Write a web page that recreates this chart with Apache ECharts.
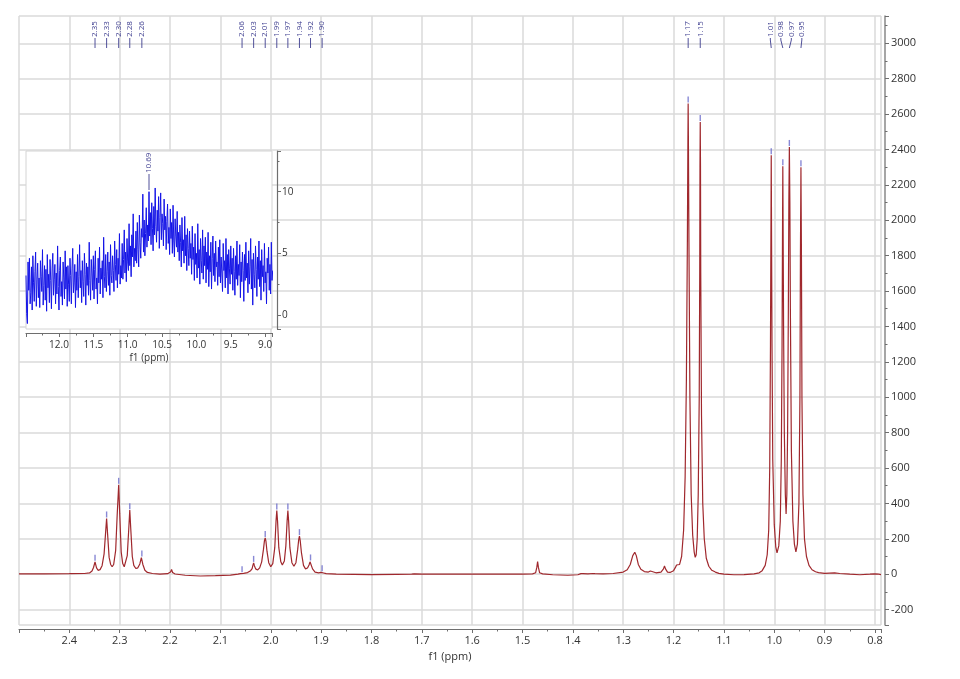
<!DOCTYPE html>
<html><head><meta charset="utf-8">
<script src="https://cdn.jsdelivr.net/npm/echarts@6/dist/echarts.min.js"></script>
<style>html,body{margin:0;padding:0;background:#fff}#c{width:960px;height:679px}</style>
</head><body><div id="c"></div>
<script>
// ---------- main 1H spectrum (ppm, intensity) ----------
const spectrumPpm = [2.500,2.450,2.400,2.370,2.360,2.355,2.352,2.349,2.346,2.343,2.339,2.335,2.331,2.328,2.326,2.324,2.321,2.318,2.315,2.312,2.308,2.305,2.302,2.300,2.297,2.294,2.291,2.288,2.285,2.282,2.280,2.278,2.275,2.272,2.268,2.264,2.260,2.257,2.254,2.250,2.245,2.235,2.220,2.205,2.199,2.197,2.195,2.190,2.170,2.140,2.110,2.080,2.065,2.060,2.057,2.054,2.046,2.040,2.037,2.0355,2.034,2.0325,2.030,2.026,2.022,2.018,2.0145,2.0125,2.011,2.0095,2.0075,2.004,2.000,1.996,1.992,1.9895,1.988,1.9865,1.984,1.980,1.977,1.973,1.970,1.9675,1.966,1.9645,1.962,1.958,1.954,1.950,1.9465,1.9445,1.943,1.9415,1.939,1.935,1.931,1.927,1.924,1.922,1.921,1.9195,1.917,1.912,1.905,1.900,1.898,1.895,1.890,1.870,1.800,1.750,1.720,1.715,1.700,1.600,1.500,1.480,1.474,1.4715,1.470,1.4685,1.466,1.460,1.440,1.410,1.390,1.384,1.382,1.380,1.370,1.360,1.358,1.356,1.340,1.320,1.300,1.292,1.286,1.281,1.277,1.274,1.270,1.265,1.258,1.250,1.246,1.243,1.235,1.225,1.220,1.218,1.216,1.212,1.207,1.200,1.196,1.194,1.192,1.188,1.184,1.180,1.177,1.1745,1.1725,1.1715,1.171,1.1705,1.1695,1.1675,1.165,1.162,1.159,1.157,1.155,1.153,1.151,1.149,1.148,1.1475,1.147,1.1465,1.146,1.1445,1.142,1.139,1.135,1.130,1.124,1.117,1.110,1.100,1.080,1.060,1.040,1.030,1.024,1.018,1.014,1.011,1.009,1.0075,1.0065,1.006,1.0055,1.0045,1.003,1.000,0.997,0.9945,0.991,0.988,0.986,0.9845,0.9835,0.983,0.9825,0.9815,0.980,0.978,0.9765,0.975,0.9735,0.972,0.971,0.970,0.969,0.968,0.966,0.963,0.960,0.957,0.954,0.951,0.949,0.948,0.947,0.946,0.945,0.943,0.940,0.936,0.931,0.925,0.918,0.915,0.912,0.900,0.880,0.870,0.850,0.830,0.810,0.800,0.797,0.794,0.788];
const spectrumInt = [2,2,3,4,7,18,38,70,36,22,26,48,115,235,315,225,95,55,42,55,135,335,505,345,125,60,42,52,105,255,362,255,100,50,32,36,58,94,55,22,10,4,1,3,12,27,10,1,-6,-10,-8,-5,0,3,6,5,9,20,32,50,64,48,30,24,36,70,140,190,205,185,130,65,42,60,150,300,360,300,150,70,52,75,160,300,360,300,150,65,45,65,140,195,215,190,120,50,30,35,52,70,72,60,30,12,8,10,11,7,3,1,-2,-1,0,2,0,0,1,2,8,40,71,40,8,2,-3,-6,-3,3,11,3,2,4,8,3,2,4,12,25,55,105,124,105,55,28,15,12,18,12,8,12,30,47,30,12,10,20,40,52,45,55,100,250,550,1100,1900,2450,2660,2450,1900,1000,450,220,125,95,110,200,450,1000,1700,2300,2555,2300,1700,900,400,200,90,45,22,12,5,0,-3,-2,2,8,20,50,110,250,600,1300,2000,2367,2000,1300,650,280,155,120,160,300,650,1300,2000,2305,2000,1400,800,450,340,450,800,1500,2100,2414,2100,1500,700,300,170,126,170,400,1000,1800,2300,1800,1000,450,200,100,50,25,14,18,9,5,8,4,0,-3,0,2,9,1,-2];

// ---------- picked peaks ----------
const peakPpm = [2.349,2.326,2.302,2.280,2.256,2.057,2.034,2.011,1.988,1.966,1.943,1.921,1.898,1.171,1.147,1.006,0.983,0.970,0.947];
const peakInt = [70,315,505,362,94,6,64,205,360,360,215,72,11,2660,2555,2367,2305,2414,2300];
const peakLabels = ['2.35','2.33','2.30','2.28','2.26','2.06','2.03','2.01','1.99','1.97','1.94','1.92','1.90','1.17','1.15','1.01','0.98','0.97','0.95'];

// ---------- inset (12.5 - 8.9 ppm, noisy broad signal), sampled every 0.01 ppm ----------
const insetStartPpm = 12.48;
const insetStepPpm = 0.01;
const insetInt = [
3.2,0.1,-0.7,4.3,2.0,4.6,0.9,1.8,3.9,0.4,4.8,2.6,1.1,3.5,5.1,0.7,2.9,4.2,1.4,3.0,
0.6,4.4,3.1,1.9,5.3,0.8,2.4,4.0,1.2,3.7,0.3,4.9,2.2,3.3,1.0,4.5,2.8,0.5,3.8,5.0,
1.6,2.9,4.1,0.9,3.4,1.7,5.6,2.3,0.4,3.6,4.7,1.5,2.7,0.8,4.3,3.0,1.3,5.2,2.1,3.9,
0.7,4.0,2.5,1.1,4.6,3.2,0.9,3.8,5.4,1.8,2.6,4.1,0.6,3.5,2.0,4.9,1.4,3.1,5.7,2.2,
3.6,1.0,4.4,2.7,1.5,5.0,3.3,0.8,4.2,2.4,3.9,1.6,5.9,2.8,1.2,4.5,3.4,2.0,4.8,1.3,
3.7,5.2,2.1,3.0,0.9,4.6,2.6,5.5,1.7,3.8,2.9,4.4,1.4,6.3,3.1,2.2,4.9,1.9,3.5,5.1,
2.4,4.3,1.6,5.7,3.2,2.6,4.8,3.6,1.9,6.0,4.1,2.8,5.3,2.2,4.6,3.3,6.6,2.5,4.0,3.0,
5.8,2.9,4.5,6.9,3.4,5.1,2.7,6.2,4.3,3.6,7.4,4.0,5.6,3.1,6.5,4.7,8.2,3.9,5.4,4.4,
6.8,4.2,7.5,5.3,3.9,8.1,5.9,4.6,7.0,6.3,9.8,5.1,7.7,4.8,6.6,8.7,5.5,7.3,6.0,10.0,
6.4,8.3,5.7,9.1,7.0,5.2,8.8,6.5,10.3,7.2,5.9,8.5,6.8,9.6,5.4,7.9,9.9,6.1,8.2,7.4,
5.6,9.4,6.9,8.0,5.3,7.6,9.0,5.8,7.1,4.9,8.6,6.2,7.5,5.0,8.9,6.0,4.7,7.8,6.4,5.5,
8.4,5.1,6.7,4.4,7.3,5.9,3.9,7.9,5.2,6.1,4.2,8.0,4.8,6.5,3.6,7.0,5.4,4.0,6.8,4.6,
5.8,3.3,7.2,4.5,5.5,2.8,6.6,4.1,5.0,3.0,7.4,3.8,5.3,2.5,6.2,4.4,3.4,6.9,2.9,5.6,
4.0,6.3,2.6,5.1,3.7,6.7,2.3,4.8,3.5,5.9,2.1,4.6,6.4,3.2,5.0,2.7,6.0,3.9,4.3,2.4,
5.5,3.1,6.1,2.6,4.7,3.4,1.9,5.8,3.6,4.4,2.2,6.2,3.0,4.9,1.7,5.3,3.8,2.5,5.6,3.3,
4.6,2.0,5.4,3.5,1.6,4.8,2.9,6.0,2.4,4.1,3.2,5.7,1.4,4.3,2.7,5.1,3.6,1.1,4.9,2.8,
5.9,3.0,4.2,1.8,5.2,2.5,3.9,6.2,2.1,4.5,0.8,5.0,3.3,2.2,5.6,3.7,1.5,4.7,2.9,6.0,
2.3,4.4,1.2,5.3,3.1,4.0,1.9,5.8,2.6,3.5,0.9,4.6,3.4,5.5,2.0,4.1,1.7,5.9,2.8,3.6];
const insetPeakPpm = [10.69];
const insetPeakLabels = ['10.69'];

// ---------- axis ranges / tick steps ----------
const xRange = [0.788, 2.5], xStep = 0.1;
const yRange = [-287, 3154], yStep = 200;
const insetXRange = [8.9, 12.48], insetXStep = 0.5;
const insetYRange = [-1.14, 13.3], insetYStep = 5;

const FONT = '"Open Sans", "Noto Sans", sans-serif';
const spectrumData = spectrumPpm.map((p, i) => [p, spectrumInt[i]]);
const insetData = insetInt.map((v, i) => [insetStartPpm - i * insetStepPpm, v]);
const markerData = peakPpm.map((p, i) => [p, peakInt[i]]);

function labelRenderer(ppms, labels, textBottomOff, lineEndOff, minGap, fontSize) {
  return function (params, api) {
    const cs = params.coordSys;
    const px = ppms.map(p => api.coord([p, 0])[0]);
    const idx = px.map((v, i) => i).sort((a, b) => px[a] - px[b]);
    const pos = idx.map(i => px[i]);
    for (let it = 0; it < 60; it++) {
      for (let k = 0; k < pos.length - 1; k++) {
        const d = pos[k + 1] - pos[k];
        if (d < minGap) { const s = (minGap - d) / 2; pos[k] -= s; pos[k + 1] += s; }
      }
    }
    const children = [];
    idx.forEach((i, k) => {
      const lx = pos[k];
      const yb = cs.y + textBottomOff;
      children.push({
        type: 'text', x: lx, y: yb, rotation: Math.PI / 2,
        style: { text: labels[i], fill: '#3d3d8f', fontSize: fontSize, fontFamily: FONT, align: 'left', verticalAlign: 'middle' }
      });
      children.push({
        type: 'polyline',
        shape: { points: [[lx, yb + 1], [lx, yb + 3], [px[i], cs.y + lineEndOff]] },
        style: { stroke: '#3d3d8f', lineWidth: 0.9, fill: null }
      });
    });
    return { type: 'group', children: children };
  };
}

const chart = echarts.init(document.getElementById('c'), null, { renderer: 'canvas' });
const axisGray = '#6e6e6e';
const gridGray = '#dadada';
chart.setOption({
  animation: false,
  backgroundColor: '#fff',
  grid: [
    { left: 19, right: 79, top: 16, bottom: 54, outerBoundsMode: 'none', containLabel: false },
    { left: 26, right: 688, top: 151, bottom: 350, outerBoundsMode: 'none', containLabel: false,
      show: true, backgroundColor: '#fff', borderColor: '#d4d4d4', borderWidth: 1, z: 4 }
  ],
  xAxis: [
    { type: 'value', gridIndex: 0, inverse: true, min: xRange[0], max: xRange[1],
      minInterval: xStep, maxInterval: xStep, offset: 4,
      name: 'f1 (ppm)', nameLocation: 'middle', nameGap: 19,
      nameTextStyle: { color: '#333', fontSize: 11, fontFamily: FONT },
      axisLine: { show: true, onZero: false, lineStyle: { color: axisGray, width: 1.2 } },
      axisTick: { show: true, length: 4, lineStyle: { color: axisGray } },
      minorTick: { show: true, splitNumber: 2, length: 2.5, lineStyle: { color: axisGray } },
      axisLabel: { color: '#333', fontSize: 11, fontFamily: FONT, margin: 6, showMinLabel: false, showMaxLabel: false,
        formatter: v => v.toFixed(1) },
      splitLine: { show: true, lineStyle: { color: gridGray, width: 1.5 } } },
    { type: 'value', gridIndex: 1, inverse: true, min: insetXRange[0], max: insetXRange[1],
      minInterval: insetXStep, maxInterval: insetXStep, offset: 4, z: 5,
      name: 'f1 (ppm)', nameLocation: 'middle', nameGap: 20,
      nameTextStyle: { color: '#333', fontSize: 10, fontFamily: FONT },
      axisLine: { show: true, onZero: false, lineStyle: { color: axisGray, width: 1.2 } },
      axisTick: { show: true, length: 4, lineStyle: { color: axisGray } },
      minorTick: { show: true, splitNumber: 2, length: 2.5, lineStyle: { color: axisGray } },
      axisLabel: { color: '#333', fontSize: 10, fontFamily: FONT, margin: 7, showMinLabel: false, showMaxLabel: false,
        formatter: v => v.toFixed(1) },
      splitLine: { show: false } }
  ],
  yAxis: [
    { type: 'value', gridIndex: 0, position: 'right', min: yRange[0], max: yRange[1],
      minInterval: yStep, maxInterval: yStep, offset: 4,
      axisLine: { show: true, onZero: false, lineStyle: { color: '#888', width: 1.5 } },
      axisTick: { show: true, length: 4, lineStyle: { color: axisGray } },
      minorTick: { show: true, splitNumber: 2, length: 2.5, lineStyle: { color: axisGray } },
      axisLabel: { color: '#333', fontSize: 11, fontFamily: FONT, margin: 6, showMinLabel: false, showMaxLabel: false,
        formatter: v => String(Math.round(v)) },
      splitLine: { show: true, lineStyle: { color: gridGray, width: 1.5 } } },
    { type: 'value', gridIndex: 1, position: 'right', min: insetYRange[0], max: insetYRange[1],
      minInterval: insetYStep, maxInterval: insetYStep, offset: 5, z: 5,
      axisLine: { show: true, onZero: false, lineStyle: { color: axisGray, width: 1.2 } },
      axisTick: { show: true, length: 4, lineStyle: { color: axisGray } },
      minorTick: { show: true, splitNumber: 2, length: 2.5, lineStyle: { color: axisGray } },
      axisLabel: { color: '#333', fontSize: 10, fontFamily: FONT, margin: 5, showMinLabel: false, showMaxLabel: false,
        formatter: v => String(Math.round(v)) },
      splitLine: { show: false } }
  ],
  series: [
    { type: 'line', xAxisIndex: 0, yAxisIndex: 0, data: spectrumData, showSymbol: false, symbol: 'none',
      lineStyle: { color: '#a0282d', width: 1.2 }, z: 2, silent: true },
    { type: 'scatter', xAxisIndex: 0, yAxisIndex: 0, data: markerData, symbol: 'rect',
      symbolSize: [1.4, 6], symbolOffset: [0, -4], itemStyle: { color: '#6a6acb' }, z: 3, silent: true },
    { type: 'custom', xAxisIndex: 0, yAxisIndex: 0, data: [[1, 0]], clip: false, silent: true, z: 3,
      renderItem: labelRenderer(peakPpm, peakLabels, 21, 32, 10.5, 8) },
    { type: 'line', xAxisIndex: 1, yAxisIndex: 1, data: insetData, showSymbol: false, symbol: 'none',
      lineStyle: { color: '#1414e6', width: 1 }, z: 6, silent: true },
    { type: 'custom', xAxisIndex: 1, yAxisIndex: 1, data: [[10, 0]], clip: false, silent: true, z: 7,
      renderItem: labelRenderer(insetPeakPpm, insetPeakLabels, 22, 39, 10, 8) }
  ]
});
</script>
</body></html>
